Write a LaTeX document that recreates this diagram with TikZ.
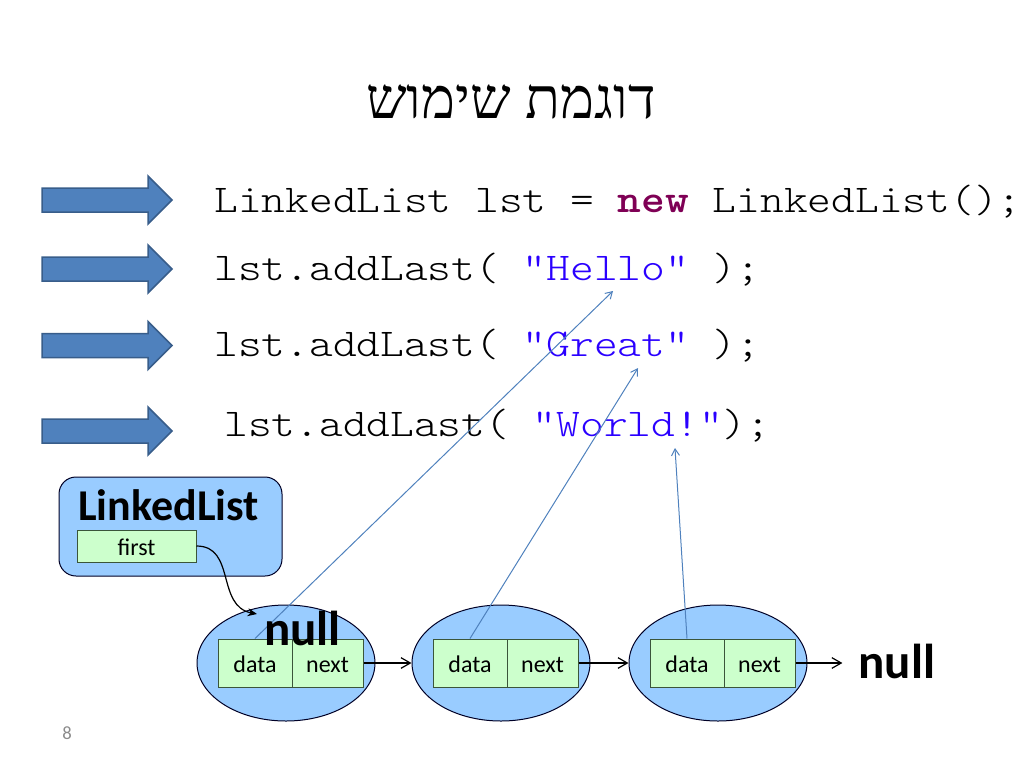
\documentclass[tikz,border=0pt]{standalone}
\usepackage{fontspec}
\setmainfont{Carlito}
\newfontfamily\codefont[FakeStretch=1.15]{Latin Modern Mono Light}
\newfontfamily\hebfont[Script=Hebrew]{Liberation Serif}
\TeXXeTstate=1
\usetikzlibrary{arrows.meta,shapes.geometric}
\definecolor{arrowfill}{HTML}{4F81BD}
\definecolor{arrowline}{HTML}{385D8A}
\definecolor{nodeblue}{HTML}{99CCFF}
\definecolor{cellgreen}{HTML}{CCFFCC}
\definecolor{cellline}{HTML}{3A553A}
\definecolor{strblue}{HTML}{2A00FF}
\definecolor{kwpurple}{HTML}{7F0055}
\definecolor{ptrblue}{HTML}{4F81BD}
\definecolor{pagegray}{HTML}{8B8B8B}
\newcommand\pxu{0.75pt}
\begin{document}
\begin{tikzpicture}[x=0.75pt,y=-0.75pt,
  blockarrow/.style={fill=arrowfill,draw=arrowline,line width=1.5*\pxu,line join=miter},
  codeline/.style={anchor=base west,inner sep=0,font=\codefont\fontsize{29.5}{34}\selectfont},
  listnode/.style={ellipse,draw=black!85!blue,fill=nodeblue,line width=\pxu,line join=round,minimum width=178*\pxu,minimum height=116*\pxu,inner sep=0},
  cell/.style={rectangle,draw=cellline,fill=cellgreen,line width=\pxu,minimum height=48*\pxu,inner sep=0,text height=14.5pt,text depth=0pt,font=\fontsize{18}{20}\selectfont},
  datacell/.style={cell,minimum width=74*\pxu},
  nextcell/.style={cell,minimum width=71*\pxu},
  nulltext/.style={anchor=base,inner sep=0,font=\bfseries\fontsize{36.75}{40}\selectfont},
  conn/.style={draw=black,line width=1.2*\pxu,-{Straight Barb[length=7pt,width=8pt]}},
  ptr/.style={draw=ptrblue,line width=\pxu,-{Straight Barb[length=5pt,width=6pt]}}
]
\useasboundingbox (0,0) rectangle (1024,768);

% title
\node (title) [anchor=base,inner sep=0,font=\hebfont\fontsize{43}{46}\selectfont] at (511,118) {\beginR דוגמת שימוש\endR};

% block arrows
\foreach \yc in {200,269,345.5,431}{
  \draw[blockarrow] (42,\yc-12) -- (148,\yc-12) -- (148,\yc-24) -- (172,\yc) -- (148,\yc+24) -- (148,\yc+12) -- (42,\yc+12) -- cycle;
}

% code lines
\node (c1) [codeline] at (214,212.3) {LinkedList lst = \textcolor{kwpurple}{\bfseries new} LinkedList();};
\node (c2) [codeline] at (214,280) {lst.addLast( \textcolor{strblue}{"Hello"} );};
\node (c3) [codeline] at (214,356.7) {lst.addLast( \textcolor{strblue}{"Great"} );};
\node (c4) [codeline] at (224,436) {lst.addLast( \textcolor{strblue}{"World!"});};

% LinkedList object
\node (ll) [draw=black!85!blue,fill=nodeblue,line width=\pxu,rounded corners=17*\pxu,minimum width=223*\pxu,minimum height=99*\pxu,inner sep=0] at (170.5,526.5) {};
\node (lltext) [anchor=base,inner sep=0,font=\bfseries\fontsize{33}{36}\selectfont] at (168.5,520) {LinkedList};
\node (first) [cell,minimum width=119*\pxu,minimum height=32*\pxu,text height=13.5pt] at (136.5,546) {first};

% list nodes
\node (e1) [listnode] at (286,663) {};
\node (e2) [listnode] at (501,663) {};
\node (e3) [listnode] at (718,663) {};
\node (d1) [datacell] at (255,663) {data};
\node (n1) [nextcell] at (327.5,663) {next};
\node (d2) [datacell] at (470,663) {data};
\node (n2) [nextcell] at (542.5,663) {next};
\node (d3) [datacell] at (687,663) {data};
\node (n3) [nextcell] at (759.5,663) {next};

% targets in the code
\coordinate (hello) at (613,291);
\coordinate (great) at (638,368);
\coordinate (world) at (675,448);
\coordinate (ftip) at (257,614);

% pointers to strings
\draw[ptr] (d1.north) -- (hello);
\draw[ptr] (d2.north) -- (great);
\draw[ptr] (d3.north) -- (world);

% null texts
\node (null1) [nulltext] at (302.5,645) {null};
\node (null2) [nulltext] at (897,678) {null};

% next links
\draw[conn] (n1.east) -- (e2.west);
\draw[conn] (n2.east) -- (e3.west);
\draw[conn] (n3.east) -- ([xshift=-12pt]null2.west |- n3.east);

% first pointer
\draw[black,line width=1.2*\pxu,-{Stealth[length=7pt,width=6pt]}] (first.east) .. controls (236,546) and (216,606) .. (ftip);

% page number
\node (page) [inner sep=0,text=pagegray,font=\fontsize{14}{16}\selectfont] at (67,733) {8};
\end{tikzpicture}
\end{document}
